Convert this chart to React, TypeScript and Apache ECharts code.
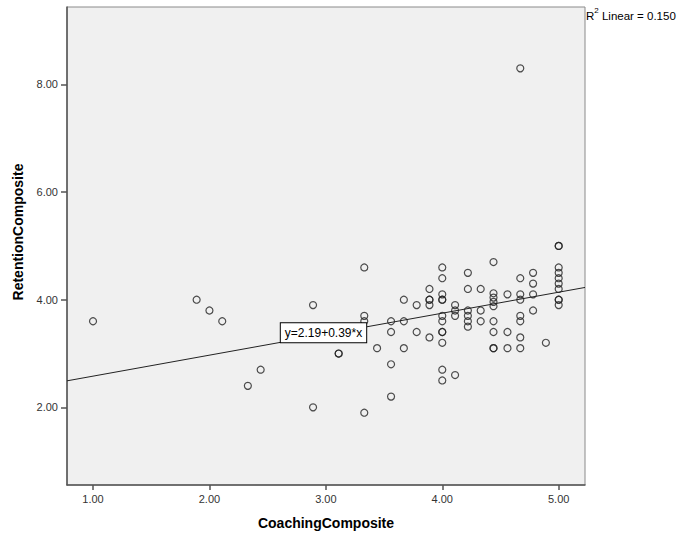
import React, { useEffect, useRef } from "react";
import * as echarts from "echarts";

const coaching: number[] = [
  1.0, 1.89, 2.0, 2.11, 2.33, 2.44, 2.89, 2.89, 3.11, 3.11,
  3.33, 3.33, 3.33, 3.33, 3.44, 3.56, 3.56, 3.56, 3.56,
  3.67, 3.67, 3.67, 3.78, 3.78,
  3.89, 3.89, 3.89, 3.89, 3.89,
  4.0, 4.0, 4.0, 4.0, 4.0, 4.0, 4.0, 4.0, 4.0, 4.0, 4.0, 4.0,
  4.11, 4.11, 4.11, 4.11,
  4.22, 4.22, 4.22, 4.22, 4.22, 4.22,
  4.33, 4.33, 4.33,
  4.44, 4.44, 4.44, 4.44, 4.44, 4.44, 4.44, 4.44, 4.44,
  4.56, 4.56, 4.56,
  4.67, 4.67, 4.67, 4.67, 4.67, 4.67, 4.67, 4.67,
  4.78, 4.78, 4.78, 4.78,
  4.89,
  5.0, 5.0, 5.0, 5.0, 5.0, 5.0, 5.0, 5.0, 5.0, 5.0,
];
const retention: number[] = [
  3.6, 4.0, 3.8, 3.6, 2.4, 2.7, 3.9, 2.0, 3.0, 3.0,
  4.6, 3.7, 3.6, 1.9, 3.1, 3.6, 3.4, 2.8, 2.2,
  4.0, 3.6, 3.1, 3.9, 3.4,
  4.2, 4.0, 4.0, 3.9, 3.3,
  4.6, 4.4, 4.1, 4.0, 4.0, 3.7, 3.6, 3.4, 3.4, 3.2, 2.7, 2.5,
  3.9, 3.8, 3.7, 2.6,
  4.5, 4.2, 3.8, 3.7, 3.6, 3.5,
  4.2, 3.8, 3.6,
  4.7, 4.12, 4.04, 3.96, 3.88, 3.6, 3.4, 3.1, 3.1,
  4.1, 3.4, 3.1,
  8.3, 4.4, 4.1, 4.0, 3.7, 3.6, 3.3, 3.1,
  4.5, 4.3, 4.1, 3.8,
  3.2,
  5.0, 5.0, 4.6, 4.5, 4.4, 4.3, 4.2, 4.0, 4.0, 3.9,
];
const xTicks: number[] = [1, 2, 3, 4, 5];
const yTicks: number[] = [2, 4, 6, 8];
const xRange: number[] = [0.7765, 5.226];
const yRange: number[] = [0.557, 9.44];
const intercept = 2.19;
const slope = 0.39;
const rSquared = "0.150";
const eqAnchorX = 2.613;

export default function App() {
  const ref = useRef<HTMLDivElement>(null);
  useEffect(() => {
    if (!ref.current) return;
    const chart = echarts.init(ref.current, null, { renderer: "svg" });
    const font = "'Liberation Sans', Arial, sans-serif";
    const points = coaching.map((x, i) => [x, retention[i]]);
    const fit = xRange.map((x) => [x, intercept + slope * x]);
    chart.setOption({
      animation: false,
      grid: {
        left: 67,
        right: 92,
        top: 7,
        bottom: 55,
        show: true,
        backgroundColor: "#f0f0f0",
        borderColor: "#8a8a8a",
        borderWidth: 1,
      },
      xAxis: {
        type: "value",
        min: xRange[0],
        max: xRange[1],
        splitLine: { show: false },
        axisLine: { show: true, onZero: false, lineStyle: { color: "#555", width: 1.5 } },
        axisTick: { show: true, length: 5, customValues: xTicks, lineStyle: { color: "#555", width: 1.5 } },
        axisLabel: {
          customValues: xTicks,
          formatter: (v: number) => v.toFixed(2),
          color: "#333",
          fontSize: 11,
          fontFamily: font,
          margin: 8,
        },
      },
      yAxis: {
        type: "value",
        min: yRange[0],
        max: yRange[1],
        splitLine: { show: false },
        axisLine: { show: true, onZero: false, lineStyle: { color: "#555", width: 1.5 } },
        axisTick: { show: true, length: 6, customValues: yTicks, lineStyle: { color: "#555", width: 1.5 } },
        axisLabel: {
          customValues: yTicks,
          formatter: (v: number) => v.toFixed(2),
          color: "#333",
          fontSize: 11,
          fontFamily: font,
          margin: 9,
        },
      },
      series: [
        {
          type: "line",
          data: fit,
          showSymbol: false,
          symbol: "none",
          lineStyle: { color: "#222", width: 1 },
          z: 1,
        },
        {
          type: "scatter",
          data: points,
          symbol: "circle",
          symbolSize: 7,
          itemStyle: { color: "rgba(0,0,0,0)", borderColor: "#222", borderWidth: 1.2 },
          z: 2,
        },
      ],
    });
    const anchor = chart.convertToPixel({ gridIndex: 0 }, [eqAnchorX, intercept + slope * eqAnchorX]) as number[];
    chart.setOption({
      graphic: [
        {
          type: "text",
          x: anchor[0],
          y: anchor[1],
          z: 10,
          style: {
            text: `y=${intercept.toFixed(2)}+${slope.toFixed(2)}*x`,
            font: `12px ${font}`,
            fill: "#000",
            align: "left",
            verticalAlign: "bottom",
            backgroundColor: "#fff",
            borderColor: "#000",
            borderWidth: 1,
            padding: [4, 4, 3, 4],
          },
        },
        {
          type: "text",
          x: 586,
          y: 6,
          style: {
            rich: {
              r: { fontSize: 11.5, fontFamily: font, color: "#000", lineHeight: 16, verticalAlign: "bottom" },
              s: { fontSize: 8, fontFamily: font, color: "#000", lineHeight: 16, verticalAlign: "top" },
            },
            text: `{r|R}{s|2}{r| Linear = ${rSquared}}`,
            fill: "#000",
            verticalAlign: "top",
          },
        },
        {
          type: "text",
          x: 18,
          y: 232,
          rotation: Math.PI / 2,
          style: {
            text: "RetentionComposite",
            font: `bold 14px ${font}`,
            fill: "#000",
            align: "center",
            verticalAlign: "middle",
          },
        },
        {
          type: "text",
          x: 326,
          y: 523,
          style: {
            text: "CoachingComposite",
            font: `bold 14px ${font}`,
            fill: "#000",
            align: "center",
            verticalAlign: "middle",
          },
        },
      ],
    });
    return () => chart.dispose();
  }, []);
  return <div ref={ref} style={{ width: 677, height: 540, position: "absolute", left: 0, top: 0 }} />;
}
